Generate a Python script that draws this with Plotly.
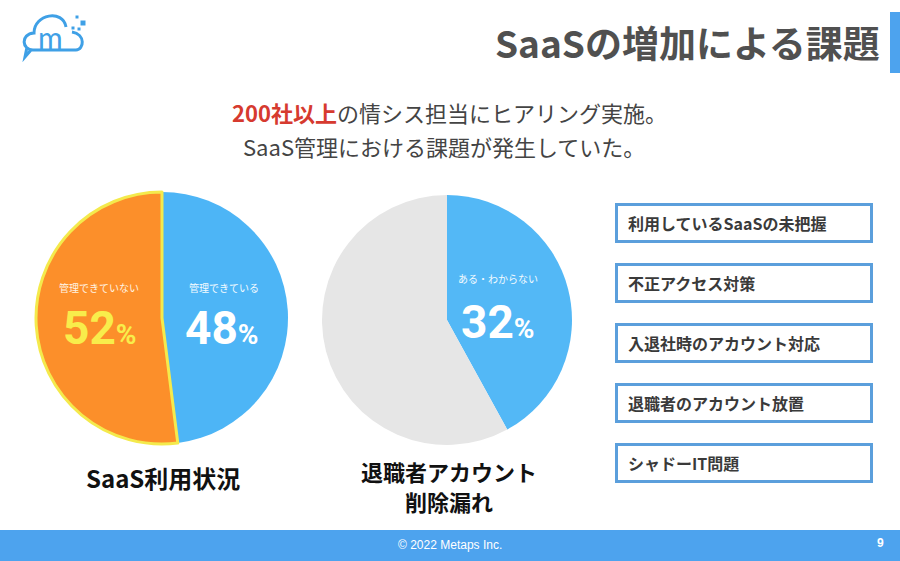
import plotly.graph_objects as go

W, H = 900, 561

# data
usage_labels = ["管理できている", "管理できていない"]
usage_values = [48, 52]
usage_colors = ["#4db5f6", "#fc8f2a"]

retire_labels = ["ある・わからない", "その他"]
retire_values = [42, 58]      # slice sizes as drawn in the picture
retire_pct_text = [32]        # figure printed on the slice
retire_colors = ["#53b8f6", "#e6e6e6"]

issue_items = [
    "利用しているSaaSの未把握",
    "不正アクセス対策",
    "入退社時のアカウント対応",
    "退職者のアカウント放置",
    "シャドーIT問題",
]

JP = "Noto Sans CJK JP"
NUM = "Roboto"


def px(x):
    return x / W


def py(y):
    return 1 - y / H


def pie_domain(cx, cy, r):
    return dict(x=[px(cx - r), px(cx + r)], y=[py(cy + r), py(cy - r)])


fig = go.Figure()

fig.add_trace(go.Pie(
    labels=usage_labels, values=usage_values, sort=False,
    direction="clockwise", rotation=0, textinfo="none", hoverinfo="label+percent",
    marker=dict(colors=usage_colors, line=dict(color=["#ffffff", "#f4ea4c"], width=[0, 3])),
    domain=pie_domain(162, 318, 126), showlegend=False,
))

fig.add_trace(go.Pie(
    labels=retire_labels, values=retire_values, sort=False,
    direction="clockwise", rotation=0, textinfo="none", hoverinfo="label",
    marker=dict(colors=retire_colors, line=dict(width=0)),
    domain=pie_domain(447, 320, 125), showlegend=False,
))

shapes = []
annotations = []


def note(text, x, y, size, color="#333333", family=JP, xanchor="center"):
    annotations.append(dict(
        text=text, x=px(x), y=py(y), xref="paper", yref="paper",
        xanchor=xanchor, yanchor="middle", showarrow=False,
        font=dict(family=family, size=size, color=color),
    ))


def pct(v, small):
    return "<b>%d<span style='font-size:%dpx'>%%</span></b>" % (v, small)


# header
note("<b>SaaSの増加による課題</b>", 882, 42, 37, "#505050", xanchor="right")
shapes.append(dict(type="rect", xref="paper", yref="paper",
                   x0=px(890), x1=px(900), y0=py(73), y1=py(12),
                   fillcolor="#4da3ee", line=dict(width=0)))

# logo
cloud = ("M %f,%f L %f,%f C %f,%f %f,%f %f,%f C %f,%f %f,%f %f,%f "
         "M %f,%f C %f,%f %f,%f %f,%f M %f,%f L %f,%f L %f,%f")
pts = [(76, 50), (33, 50),
       (22, 50), (20, 34), (34, 33),
       (34, 14), (63, 9), (66, 27),
       (72, 32), (86, 34), (84, 50), (76, 50),
       (31, 50), (25, 57), (27, 47)]
flat = []
for x, y in pts:
    flat += [px(x), py(y)]
shapes.append(dict(type="path", xref="paper", yref="paper", path=cloud % tuple(flat),
                   line=dict(color="#3fa0e6", width=3)))
for (dx, dy, s) in [(77, 17, 1.5), (83, 23, 2.5), (73, 28, 1.5), (79, 29, 1.5)]:
    shapes.append(dict(type="rect", xref="paper", yref="paper",
                       x0=px(dx - s), x1=px(dx + s), y0=py(dy + s), y1=py(dy - s),
                       fillcolor="#3fa0e6", line=dict(width=0)))
note("m", 50, 37, 30, "#3fa0e6", family="Lato")

# subtitle
note("<b><span style='color:#d63a2f'>200社以上</span></b>の情シス担当にヒアリング実施。",
     449, 112, 22, "#444444")
note("SaaS管理における課題が発生していた。", 444, 146, 22, "#444444")

# pie texts
note(usage_labels[1], 99, 287, 10, "#fff4e4")
note(pct(usage_values[1], 28), 100, 328, 46, "#f8ed4b", family=NUM)
note(usage_labels[0], 224, 287, 10, "#f4fbff")
note(pct(usage_values[0], 28), 222, 328, 46, "#ffffff", family=NUM)
note("<b>SaaS利用状況</b>", 163, 477, 24, "#111111")

note(retire_labels[0], 498, 278, 10, "#f4fbff")
note(pct(retire_pct_text[0], 28), 498, 322, 46, "#ffffff", family=NUM)
note("<b>退職者アカウント</b>", 449, 471, 22, "#111111")
note("<b>削除漏れ</b>", 449, 501, 22, "#111111")

# issue boxes
for i, item in enumerate(issue_items):
    top = 204.5 + i * 60
    shapes.append(dict(type="rect", xref="paper", yref="paper",
                       x0=px(616.5), x1=px(871.5), y0=py(top + 37), y1=py(top),
                       fillcolor="#ffffff", line=dict(color="#5b9fdc", width=3)))
    note("<b>" + item + "</b>", 626, top + 18.5, 16, "#3a3a3a", xanchor="left")

# footer
shapes.append(dict(type="rect", xref="paper", yref="paper",
                   x0=0, x1=1, y0=0, y1=py(530),
                   fillcolor="#4da3ee", line=dict(width=0)))
note("© 2022 Metaps Inc.", 450, 545, 12, "#ffffff", family="Liberation Sans")
note("<b>9</b>", 880, 543, 12, "#ffffff", family="Liberation Sans")

fig.update_layout(
    width=W, height=H,
    margin=dict(l=0, r=0, t=0, b=0),
    paper_bgcolor="#ffffff", plot_bgcolor="#ffffff",
    shapes=shapes, annotations=annotations,
)

fig.write_html("out.html", config={"displayModeBar": False},
               post_script="document.body.style.margin='0';")
